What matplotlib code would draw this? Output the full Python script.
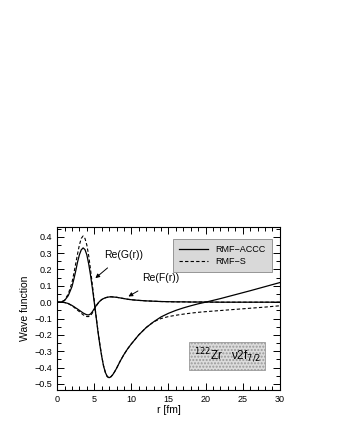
import matplotlib
matplotlib.use("Agg")
import matplotlib.pyplot as plt
from matplotlib.ticker import MultipleLocator, FuncFormatter

plt.rcParams['font.family'] = ['Liberation Sans', 'DejaVu Sans']

# radial grid (fm)
r = [0, 0.5, 1.0, 1.5, 2.0, 2.25, 2.5, 2.75, 3.0, 3.25, 3.5, 3.75, 4.0, 4.25,
     4.5, 4.75, 5.0, 5.25, 5.5, 5.75, 6.0, 6.25, 6.5, 6.75, 7.0, 7.25, 7.5,
     7.75, 8.0, 8.5, 9.0, 9.5, 10, 11, 12, 13, 14, 15, 16, 17, 18, 19, 20,
     22, 24, 26, 28, 30]

# Re(G(r)) RMF-ACCC
g_accc = [0.0, 0.0, 0.01, 0.04, 0.095, 0.14, 0.19, 0.245, 0.29, 0.32, 0.332,
          0.322, 0.29, 0.235, 0.165, 0.085, 0.0, -0.09, -0.18, -0.26, -0.33,
          -0.39, -0.43, -0.455, -0.462, -0.456, -0.443, -0.425, -0.405, -0.36,
          -0.32, -0.285, -0.255, -0.2, -0.155, -0.12, -0.09, -0.068, -0.05,
          -0.035, -0.022, -0.01, 0.0, 0.022, 0.046, 0.07, 0.095, 0.12]
# Re(G(r)) RMF-S
g_s = [0.0, 0.0, 0.012, 0.05, 0.12, 0.175, 0.235, 0.295, 0.35, 0.39, 0.405,
       0.39, 0.35, 0.285, 0.2, 0.105, 0.01, -0.085, -0.175, -0.255, -0.328,
       -0.388, -0.43, -0.455, -0.462, -0.456, -0.443, -0.425, -0.405, -0.36,
       -0.32, -0.285, -0.255, -0.2, -0.155, -0.12, -0.1, -0.088, -0.08,
       -0.073, -0.067, -0.062, -0.058, -0.051, -0.044, -0.037, -0.03, -0.022]
# Re(F(r)) RMF-ACCC
f_accc = [0.0, 0.0, -0.002, -0.008, -0.02, -0.027, -0.035, -0.042, -0.05,
          -0.058, -0.066, -0.072, -0.077, -0.078, -0.072, -0.058, -0.04, -0.022,
          -0.006, 0.006, 0.016, 0.022, 0.027, 0.03, 0.032, 0.033, 0.032, 0.031,
          0.03, 0.026, 0.022, 0.018, 0.015, 0.011, 0.008, 0.006, 0.004, 0.003,
          0.002, 0.002, 0.001, 0.001, 0.001, 0.0, 0.0, 0.0, 0.0, 0.0]
# Re(F(r)) RMF-S
f_s = [0.0, 0.0, -0.002, -0.009, -0.022, -0.03, -0.04, -0.049, -0.058, -0.068,
       -0.077, -0.084, -0.088, -0.088, -0.082, -0.066, -0.046, -0.025, -0.008,
       0.005, 0.016, 0.022, 0.027, 0.03, 0.032, 0.033, 0.032, 0.031, 0.03,
       0.026, 0.022, 0.018, 0.015, 0.011, 0.008, 0.006, 0.004, 0.003, 0.002,
       0.002, 0.001, 0.001, 0.001, 0.0, 0.0, 0.0, 0.0, 0.0]

fig = plt.figure(figsize=(3.38, 4.37), dpi=100)
ax = fig.add_axes([0.169, 0.1076, 0.659, 0.373])

ax.plot(r, g_accc, color='black', lw=0.9, label='RMF\u2212ACCC')
ax.plot(r, g_s, color='black', lw=0.8, ls=(0, (3, 2)), label='RMF\u2212S')
ax.plot(r, f_accc, color='black', lw=0.9)
ax.plot(r, f_s, color='black', lw=0.8, ls=(0, (3, 2)))

ax.set_xlim(0, 30)
ax.set_ylim(-0.537, 0.46)
ax.xaxis.set_major_locator(MultipleLocator(5))
ax.xaxis.set_minor_locator(MultipleLocator(1))
ax.yaxis.set_major_locator(MultipleLocator(0.1))
ax.yaxis.set_minor_locator(MultipleLocator(0.05))
ax.yaxis.set_major_formatter(FuncFormatter(
    lambda v, p: ('%.1f' % v).replace('-', '\u2212') if abs(v) > 1e-9 else '0.0'))
ax.tick_params(which='both', direction='in', top=True, right=True, labelsize=6.5, width=0.7)
ax.tick_params(which='major', length=5)
ax.tick_params(which='minor', length=3)
for s in ax.spines.values():
    s.set_linewidth(0.8)

ax.set_xlabel('r [fm]', fontsize=7.5, labelpad=1)
ax.set_ylabel('Wave function', fontsize=7.5, labelpad=3)

leg = ax.legend(loc='upper right', bbox_to_anchor=(0.964, 0.926), borderaxespad=0,
                fontsize=6.5, frameon=True, fancybox=False, handlelength=3.2,
                borderpad=0.7, labelspacing=0.3)
leg.get_frame().set_facecolor('#d9d9d9')
leg.get_frame().set_edgecolor('#888888')
leg.get_frame().set_linewidth(0.6)
leg.get_frame().set_alpha(1)

ax.annotate('Re(G(r))', xy=(5.15, 0.147), xytext=(8.9, 0.29), fontsize=7.5,
            ha='center', va='center',
            arrowprops=dict(arrowstyle='-|>', lw=0.7, color='black', mutation_scale=6,
                            shrinkA=6, shrinkB=0))
ax.annotate('Re(F(r))', xy=(9.6, 0.035), xytext=(14.0, 0.15), fontsize=7.5,
            ha='center', va='center',
            arrowprops=dict(arrowstyle='-|>', lw=0.7, color='black', mutation_scale=6,
                            shrinkA=8, shrinkB=0))

ax.text(22.9, -0.33, '$^{122}$Zr   \u03bd2f$_{7/2}$', fontsize=8.5, ha='center', va='center',
        bbox=dict(boxstyle='square,pad=0.4', facecolor='#dcdcdc', edgecolor='#999999',
                  linewidth=0.6, hatch='.....'))

fig.savefig('out.png', dpi=100)
